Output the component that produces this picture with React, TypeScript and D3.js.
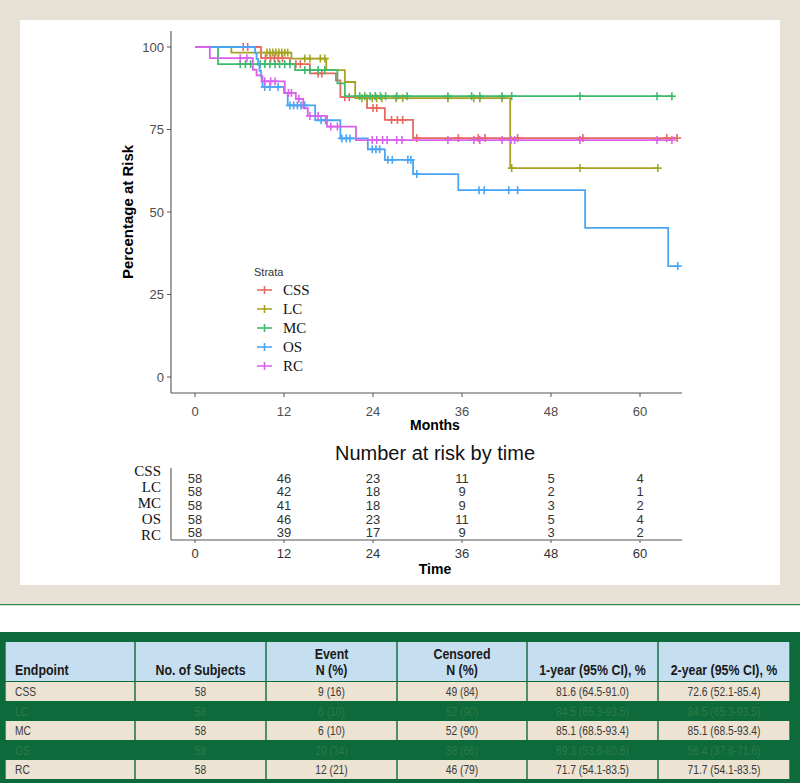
import React from "react";
import * as d3 from "d3";

// ---------- data ----------
const strata = ["CSS", "LC", "MC", "OS", "RC"];
const strataColors = ["#e8695f", "#a5a422", "#3dba6c", "#4aa6f4", "#d962ec"];

const cssSteps: [number, number][] = [[0, 100], [8.9, 96.6], [12.8, 94.8], [15.5, 92.0], [19.0, 89.9], [19.6, 84.8], [23.2, 81.5], [25.6, 77.9], [29.4, 72.4]];
const cssCensor = [6.5, 7.1, 9.5, 10.2, 10.7, 11.2, 11.8, 13.6, 14.2, 16.6, 17.1, 20.2, 20.8, 24.0, 24.5, 26.5, 27.3, 28.0, 29.9, 35.5, 38.2, 39.1, 43.5, 52.3, 63.6, 65.0];

const lcSteps: [number, number][] = [[0, 100], [4.9, 98.3], [13.0, 96.5], [17.7, 93.0], [20.2, 89.4], [21.6, 84.5], [42.5, 63.3]];
const lcCensor = [9.7, 10.1, 10.5, 10.9, 11.3, 11.7, 12.1, 12.5, 14.8, 15.5, 16.9, 17.5, 22.5, 23.2, 23.9, 24.5, 25.2, 27.1, 28.0, 34.1, 37.6, 38.4, 41.4, 42.7, 51.9, 62.4];

const mcSteps: [number, number][] = [[0, 100], [3.1, 94.8], [13.5, 93.0], [19.2, 89.0], [20.2, 85.1]];
const mcCensor = [6.1, 6.8, 7.5, 8.8, 9.4, 10.1, 10.8, 11.4, 12.1, 12.8, 14.8, 15.5, 16.6, 17.5, 22.2, 22.9, 23.6, 24.3, 25.0, 25.7, 27.2, 28.6, 34.1, 37.3, 38.4, 41.4, 42.7, 51.9, 62.3, 64.3];

const osSteps: [number, number][] = [[0, 100], [8.1, 98.2], [8.3, 96.4], [8.5, 94.6], [8.7, 92.8], [8.9, 91.0], [9.1, 87.9], [12.0, 86.1], [12.5, 82.3], [16.2, 77.8], [19.6, 72.3], [23.3, 69.0], [25.6, 65.8], [29.4, 61.5], [35.5, 56.6], [52.6, 45.2], [63.8, 33.6]];
const osCensor = [9.4, 10.1, 11.2, 12.8, 13.3, 13.8, 14.3, 14.8, 17.0, 17.6, 19.8, 20.4, 20.9, 23.9, 24.4, 24.9, 26.0, 26.6, 28.7, 29.1, 29.9, 38.3, 39.0, 42.3, 43.5, 65.1];

const rcSteps: [number, number][] = [[0, 100], [2.0, 96.6], [7.8, 93.1], [8.3, 91.4], [9.0, 89.6], [12.1, 86.1], [13.6, 84.3], [14.6, 81.5], [15.2, 79.1], [17.8, 75.9], [21.7, 71.8]];
const rcCensor = [6.1, 7.0, 9.4, 10.2, 10.8, 12.6, 13.0, 14.0, 15.5, 16.6, 18.3, 19.2, 23.9, 24.5, 25.3, 25.9, 27.2, 27.9, 34.1, 37.6, 38.4, 41.4, 42.6, 43.1, 51.9, 62.3, 64.3];

const allSteps = [cssSteps, lcSteps, mcSteps, osSteps, rcSteps];
const allCensor = [cssCensor, lcCensor, mcCensor, osCensor, rcCensor];

const xTicks = [0, 12, 24, 36, 48, 60];
const yTicks = [0, 25, 50, 75, 100];

const riskCSS = [58, 46, 23, 11, 5, 4];
const riskLC = [58, 42, 18, 9, 2, 1];
const riskMC = [58, 41, 18, 9, 3, 2];
const riskOS = [58, 46, 23, 11, 5, 4];
const riskRC = [58, 39, 17, 9, 3, 2];
const riskRows = [riskCSS, riskLC, riskMC, riskOS, riskRC];

const tableHeader1 = ["", "", "Event", "Censored", "", ""];
const tableHeader2 = ["Endpoint", "No. of Subjects", "N (%)", "N (%)", "1-year (95% CI), %", "2-year (95% CI), %"];
const colEndpoint = ["CSS", "LC", "MC", "OS", "RC"];
const colSubjects = ["58", "58", "58", "58", "58"];
const colEvent = ["9 (16)", "6 (10)", "6 (10)", "20 (34)", "12 (21)"];
const colCensored = ["49 (84)", "52 (90)", "52 (90)", "38 (66)", "46 (79)"];
const colYear1 = ["81.6 (64.5-91.0)", "84.5 (65.3-93.5)", "85.1 (68.5-93.4)", "69.3 (53.6-80.6)", "71.7 (54.1-83.5)"];
const colYear2 = ["72.6 (52.1-85.4)", "84.5 (65.3-93.5)", "85.1 (68.5-93.4)", "56.4 (37.6-71.6)", "71.7 (54.1-83.5)"];

// ---------- layout ----------
const SANS = "'Liberation Sans', Arial, Helvetica, sans-serif";
const SERIF = "'Liberation Serif', 'Times New Roman', serif";
const BEIGE = "#e8e1d6";
const DKGREEN = "#0c6a3b";
const ROWBEIGE = "#ece3d2";
const HEADBLUE = "#c5def0";
const AXIS = "#555555";
const TICKTXT = "#4d4d4d";
const NARROW_SCALE = 0.8;

const x = d3.scaleLinear().domain([0, 60]).range([195, 640]);
const y = d3.scaleLinear().domain([0, 100]).range([377, 47]);

function survAt(steps: [number, number][], t: number) {
  let v = steps[0][1];
  for (const [st, sv] of steps) if (st <= t) v = sv;
  return v;
}

function NarrowText(props: { x: number; y: number; anchor: string; size: number; bold?: boolean; fill: string; children: React.ReactNode; dy?: string; scale?: number }) {
  const s = props.scale ?? NARROW_SCALE;
  return (
    <g transform={`translate(${props.x},${props.y}) scale(${s},1)`}>
      <text
        x={0}
        y={0}
        dy={props.dy}
        textAnchor={props.anchor}
        fontFamily={SANS}
        fontWeight={props.bold ? "bold" : "normal"}
        fontSize={props.size}
        fill={props.fill}
      >
        {props.children}
      </text>
    </g>
  );
}

export default function App() {
  const line = d3
    .line<[number, number]>()
    .x((d) => x(d[0]))
    .y((d) => y(d[1]))
    .curve(d3.curveStepAfter);

  const tableCols = [5, 135, 266, 397, 527, 658, 790];
  const rowTops = [682, 702, 721, 741, 760];
  const rowH = 19;
  const columns = [colEndpoint, colSubjects, colEvent, colCensored, colYear1, colYear2];

  return (
    <svg width={800} height={783} style={{ position: "absolute", left: 0, top: 0 }} xmlns="http://www.w3.org/2000/svg">
      {/* backgrounds */}
      <rect x={0} y={0} width={800} height={605} fill={BEIGE} />
      <rect x={20} y={20} width={760} height={565} fill="#ffffff" />
      <rect x={0} y={604} width={800} height={1.5} fill="#2f8a5a" />
      <rect x={0} y={605.5} width={800} height={27} fill="#ffffff" />

      {/* main plot axes */}
      <line x1={171} y1={31} x2={171} y2={393} stroke={AXIS} strokeWidth={1.1} />
      <line x1={171} y1={393} x2={682} y2={393} stroke={AXIS} strokeWidth={1.1} />
      {yTicks.map((t) => (
        <g key={"yt" + t}>
          <line x1={167} x2={171} y1={y(t)} y2={y(t)} stroke={AXIS} strokeWidth={1} />
          <text x={164} y={y(t)} dy="0.35em" textAnchor="end" fontFamily={SANS} fontSize={13} fill={TICKTXT}>
            {t}
          </text>
        </g>
      ))}
      {xTicks.map((t) => (
        <g key={"xt" + t}>
          <line x1={x(t)} x2={x(t)} y1={393} y2={397} stroke={AXIS} strokeWidth={1} />
          <text x={x(t)} y={411} dy="0.35em" textAnchor="middle" fontFamily={SANS} fontSize={13} fill={TICKTXT}>
            {t}
          </text>
        </g>
      ))}
      <text x={435} y={430} textAnchor="middle" fontFamily={SANS} fontWeight="bold" fontSize={14} fill="#000">
        Months
      </text>
      <text transform="translate(133,212) rotate(-90)" textAnchor="middle" fontFamily={SANS} fontWeight="bold" fontSize={15} fill="#000">
        Percentage at Risk
      </text>

      {/* curves */}
      {allSteps.map((steps, i) => {
        const cens = allCensor[i];
        const end = Math.max(...cens, steps[steps.length - 1][0]);
        const pts: [number, number][] = [...steps, [end, steps[steps.length - 1][1]]];
        return (
          <g key={"s" + i}>
            <path d={line(pts) || ""} fill="none" stroke={strataColors[i]} strokeWidth={1.8} />
            {cens.map((c, j) => {
              const cx = x(c);
              const cy = y(survAt(steps, c));
              return (
                <g key={j} stroke={strataColors[i]} strokeWidth={1.6}>
                  <line x1={cx - 4} x2={cx + 4} y1={cy} y2={cy} />
                  <line x1={cx} x2={cx} y1={cy - 4} y2={cy + 4} />
                </g>
              );
            })}
          </g>
        );
      })}

      {/* legend */}
      <text x={254} y={276} fontFamily={SANS} fontSize={11} fill="#333">
        Strata
      </text>
      {strata.map((s, i) => {
        const ly = 290 + i * 19;
        return (
          <g key={"lg" + s}>
            <line x1={257} x2={272} y1={ly} y2={ly} stroke={strataColors[i]} strokeWidth={1.6} />
            <line x1={264.5} x2={264.5} y1={ly - 4} y2={ly + 4} stroke={strataColors[i]} strokeWidth={1.6} />
            <text x={283} y={ly} dy="0.35em" fontFamily={SERIF} fontSize={15} fill="#111">
              {s}
            </text>
          </g>
        );
      })}

      {/* risk table */}
      <text x={435} y={460} textAnchor="middle" fontFamily={SANS} fontSize={20} fill="#111">
        Number at risk by time
      </text>
      <line x1={171} y1={468} x2={171} y2={540} stroke={AXIS} strokeWidth={1.1} />
      <line x1={171} y1={540} x2={682} y2={540} stroke={AXIS} strokeWidth={1.1} />
      {strata.map((s, i) => (
        <text key={"rl" + s} x={161} y={471 + i * 16} dy="0.35em" textAnchor="end" fontFamily={SERIF} fontSize={15} fill="#111">
          {s}
        </text>
      ))}
      {riskRows.map((row, i) =>
        row.map((v, j) => (
          <text key={"rv" + i + "-" + j} x={x(xTicks[j])} y={478 + i * 13.7} dy="0.35em" textAnchor="middle" fontFamily={SANS} fontSize={13} fill="#333">
            {v}
          </text>
        ))
      )}
      {xTicks.map((t) => (
        <g key={"rt" + t}>
          <line x1={x(t)} x2={x(t)} y1={540} y2={543} stroke={AXIS} strokeWidth={1} />
          <text x={x(t)} y={553} dy="0.35em" textAnchor="middle" fontFamily={SANS} fontSize={13} fill="#333">
            {t}
          </text>
        </g>
      ))}
      <text x={435} y={574} textAnchor="middle" fontFamily={SANS} fontWeight="bold" fontSize={14} fill="#000">
        Time
      </text>

      {/* bottom table */}
      <rect x={0} y={632} width={800} height={151} fill={DKGREEN} />
      {tableCols.slice(0, -1).map((cx, c) => (
        <rect key={"hc" + c} x={cx + 0.7} y={642} width={tableCols[c + 1] - cx - 1.4} height={39} fill={HEADBLUE} />
      ))}
      {tableHeader2.map((h, c) => {
        const left = c === 0;
        const cx = left ? tableCols[0] + 10 : (tableCols[c] + tableCols[c + 1]) / 2;
        const anchor = left ? "start" : "middle";
        return (
          <g key={"hd" + c}>
            {tableHeader1[c] && (
              <NarrowText x={cx} y={659} anchor={anchor} size={15.5} bold fill="#1a1a1a">
                {tableHeader1[c]}
              </NarrowText>
            )}
            <NarrowText x={cx} y={675} anchor={anchor} size={15.5} bold fill="#1a1a1a">
              {h}
            </NarrowText>
          </g>
        );
      })}
      {rowTops.map((top, r) => {
        const beige = r % 2 === 0;
        return (
          <g key={"row" + r}>
            {beige &&
              tableCols.slice(0, -1).map((cx, c) => (
                <rect key={"bc" + c} x={cx + 0.7} y={top} width={tableCols[c + 1] - cx - 1.4} height={rowH} fill={ROWBEIGE} />
              ))}
            {columns.map((col, c) => {
              const left = c === 0;
              const tx = left ? tableCols[0] + 10 : (tableCols[c] + tableCols[c + 1]) / 2;
              return (
                <NarrowText
                  key={"cell" + c}
                  x={tx}
                  y={top + rowH / 2}
                  dy="0.36em"
                  anchor={left ? "start" : "middle"}
                  size={13.5}
                  scale={0.76}
                  fill={beige ? "#3a3a3a" : "#2c7a45"}
                >
                  {col[r]}
                </NarrowText>
              );
            })}
          </g>
        );
      })}
    </svg>
  );
}
